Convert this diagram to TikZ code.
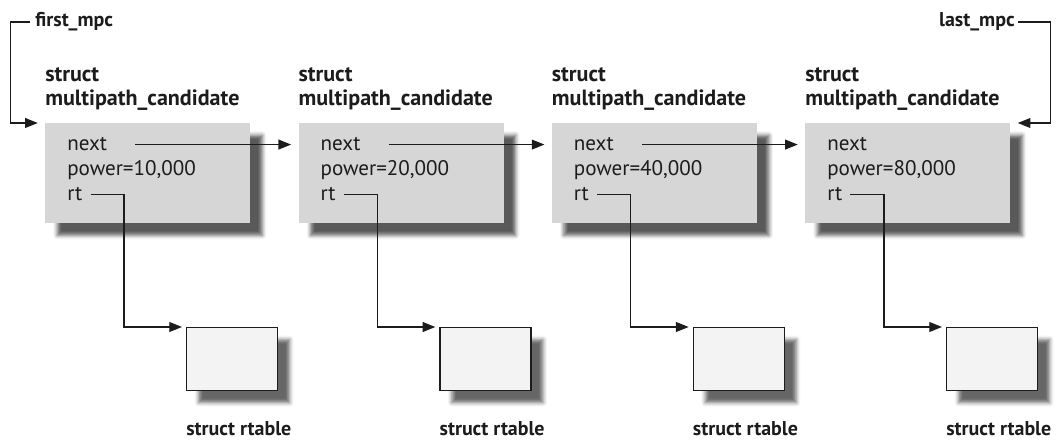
\documentclass[tikz,border=0pt]{standalone}
\usepackage{fontspec}
\setmainfont{PT Sans}
\usetikzlibrary{arrows.meta, positioning, calc, shadows.blur}
\definecolor{mpcgray}{RGB}{214,214,214}
\definecolor{rtgray}{RGB}{243,243,243}
\definecolor{inkblack}{RGB}{28,28,28}

\tikzset{
  mpcbox/.style={rectangle, fill=mpcgray, minimum width=5.125cm, minimum height=2.5cm,
    anchor=north west, blur shadow={shadow xshift=0.3cm, shadow yshift=-0.3cm,
    shadow blur radius=0.1cm, shadow opacity=65}},
  rtbox/.style={rectangle, draw=inkblack, fill=rtgray, line width=0.9pt, minimum width=2.275cm,
    minimum height=1.575cm, anchor=north west, blur shadow={shadow xshift=0.3cm,
    shadow yshift=-0.3cm, shadow blur radius=0.1cm, shadow opacity=60}},
  field/.style={inner sep=0pt, anchor=base west, text=inkblack},
  heading/.style={inner sep=0pt, text=inkblack, font=\fontsize{15.7}{16.5}\selectfont\bfseries},
  tag/.style={inner sep=0pt, text=inkblack, font=\fontsize{14.2}{16}\selectfont\bfseries},
  ptr/.style={draw=inkblack, line width=0.9pt, -{Triangle[length=9pt, width=7pt]}}
}

\begin{document}
\begin{tikzpicture}[font=\fontsize{15}{18}\selectfont]
  \useasboundingbox (0,0) rectangle (26.425,11.025);
  % the four candidates and their routing tables
  \foreach \i/\pw [evaluate=\i as \xl using 1.125+6.333*(\i-1)] in {1/10,2/20,3/40,4/80} {
    \node[mpcbox] (mpc\i) at (\xl,7.95) {};
    \node[heading, anchor=west, align=left] (hdr\i) at (\xl,8.8) {struct\\multipath\_candidate};
    \node[field] (next\i) at (\xl+0.55,7.25) {next};
    \node[field] (power\i) at (\xl+0.55,6.625) {power=\pw,000};
    \node[field] (rt\i) at (\xl+0.55,6.0) {rt};
    \node[rtbox] (rtable\i) at (\xl+3.525,2.85) {};
    \node[tag, anchor=west] (rtlabel\i) at ($(rtable\i.south west)+(0,-0.93)$) {struct rtable};
    \draw[ptr] ([xshift=0.2cm]rt\i.east) -| ($(rtable\i.north west)+(-1.55,0)$)
      -- ($(rtable\i.north west)+(-0.1,0)$);
  }
  % next pointers
  \foreach \i/\j in {1/2,2/3,3/4}
    \draw[ptr] ([xshift=0.7cm]next\i.east) -- ($(mpc\j.west |- next\i.east)+(-0.18,0)$);
  % list head and tail
  \node[tag, anchor=west] (first) at (0.875,10.475) {first\_mpc};
  \draw[ptr] ([xshift=-0.12cm]first.west) -- ++(-0.5,0) |- ($(mpc1.north west)+(-0.18,0)$);
  \node[tag, anchor=east] (last) at (25.375,10.475) {last\_mpc};
  \draw[ptr] ([xshift=0.08cm]last.east) -- ++(0.8,0) |- ($(mpc4.north east)+(0.18,0)$);
\end{tikzpicture}
\end{document}
